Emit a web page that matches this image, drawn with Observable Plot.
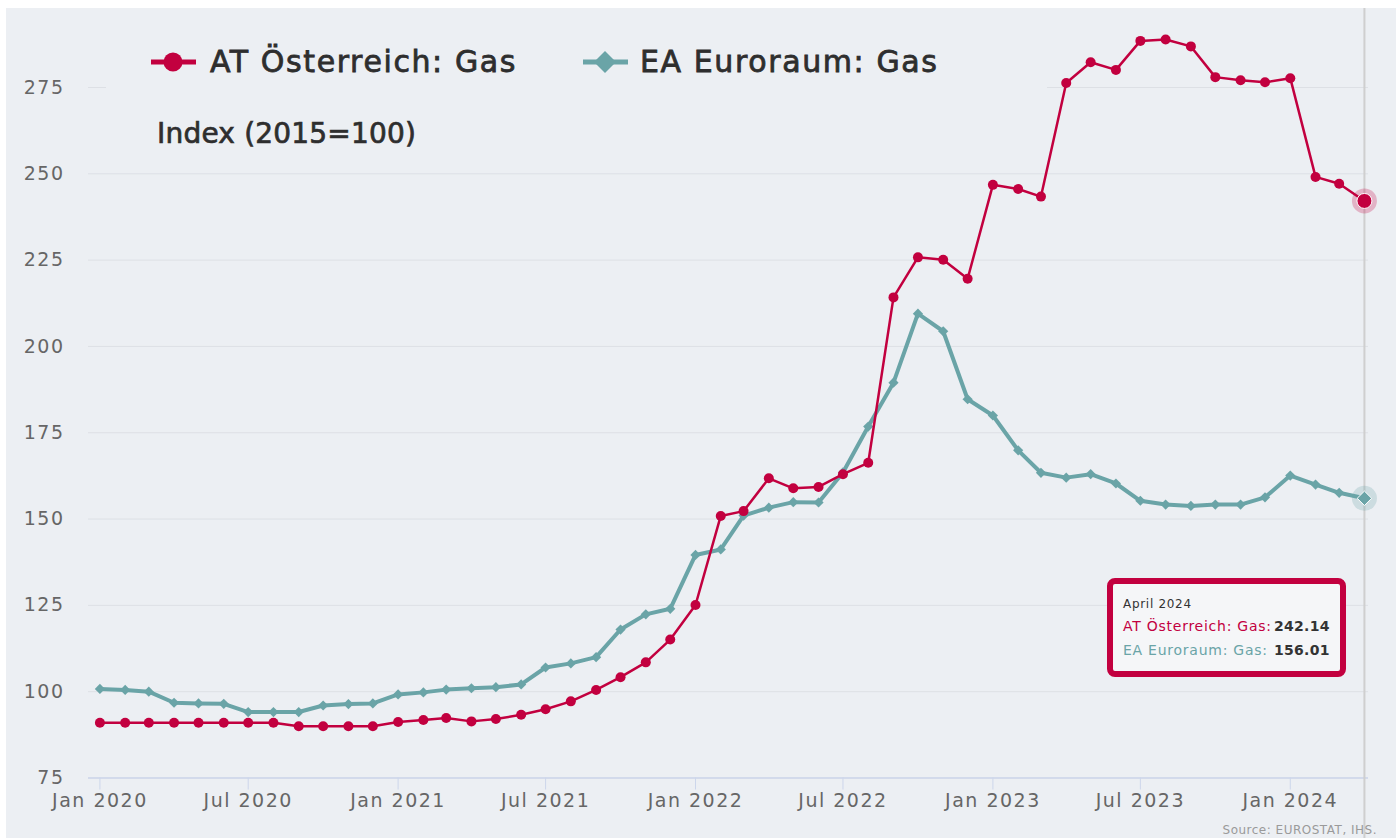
<!DOCTYPE html>
<html>
<head>
<meta charset="utf-8">
<script src="https://cdn.jsdelivr.net/npm/d3@7"></script>
<script src="https://cdn.jsdelivr.net/npm/@observablehq/plot@0.6"></script>
<style>
  html, body { margin: 0; padding: 0; background: #ffffff; }
  #wrap { position: relative; width: 1396px; height: 838px; overflow: hidden; background: #ffffff; font-family: "DejaVu Sans", sans-serif; }
  #panel { position: absolute; left: 6px; top: 8px; right: 0; bottom: 0; background: #eceff3; }
  #chart { position: absolute; left: 0; top: 0; }
  #chart text { letter-spacing: 1.5px; }
  #cover { position: absolute; left: 106px; top: 30px; width: 941px; height: 66px; background: #eceff3; }
  .abs { position: absolute; white-space: nowrap; line-height: 1; }
  .leg { font-size: 30px; letter-spacing: 1.6px; color: #2e2e2e; top: 46.6px; -webkit-text-stroke: 0.8px #2e2e2e; }
  #index { left: 157px; top: 119.8px; font-size: 28px; letter-spacing: 0.2px; color: #2e2e2e; -webkit-text-stroke: 0.7px #2e2e2e; }
  #tip { position: absolute; left: 1107px; top: 578px; width: 227px; height: 87px; border: 6px solid #c2003f; border-radius: 8px; background: #f5f6f8; }
  .tl { position: absolute; white-space: nowrap; line-height: 1; }
  #source { right: 19px; top: 824px; font-size: 12px; letter-spacing: 0.5px; color: #9a9a9a; }
</style>
</head>
<body>
<div id="wrap">
  <div id="panel"></div>
  <div id="chart"></div>
  <div id="cover"></div>
  <svg class="abs" style="left:148px;top:50px" width="52" height="24"><line x1="3" y1="12" x2="48" y2="12" stroke="#c2003f" stroke-width="5"/><circle cx="25" cy="12" r="9.5" fill="#c2003f"/></svg>
  <div class="abs leg" id="legAT" style="left:210px"></div>
  <svg class="abs" style="left:580px;top:50px" width="52" height="24"><line x1="3" y1="12" x2="48" y2="12" stroke="#6aa4a7" stroke-width="5"/><path d="M25 1 L36 12 L25 23 L14 12 Z" fill="#6aa4a7"/></svg>
  <div class="abs leg" id="legEA" style="left:640px"></div>
  <div class="abs" id="index"></div>
  <div id="tip">
    <div class="tl" id="tipDate" style="left:10px;top:14px;font-size:12px;letter-spacing:0.7px;color:#333;"></div>
    <div class="tl" id="tipAT" style="left:10px;top:35px;font-size:14px;letter-spacing:0.75px;color:#c2003f;"></div>
    <div class="tl" id="tipATv" style="left:161px;top:35px;font-size:14px;font-weight:bold;letter-spacing:0.3px;color:#333;"></div>
    <div class="tl" id="tipEA" style="left:10px;top:59px;font-size:14px;letter-spacing:0.75px;color:#6aa4a7;"></div>
    <div class="tl" id="tipEAv" style="left:161px;top:59px;font-size:14px;font-weight:bold;letter-spacing:0.3px;color:#333;"></div>
  </div>
  <div class="abs" id="source"></div>
</div>
<script>
// ---- data ----
const months = [
  "2020-01","2020-02","2020-03","2020-04","2020-05","2020-06","2020-07","2020-08","2020-09","2020-10","2020-11","2020-12",
  "2021-01","2021-02","2021-03","2021-04","2021-05","2021-06","2021-07","2021-08","2021-09","2021-10","2021-11","2021-12",
  "2022-01","2022-02","2022-03","2022-04","2022-05","2022-06","2022-07","2022-08","2022-09","2022-10","2022-11","2022-12",
  "2023-01","2023-02","2023-03","2023-04","2023-05","2023-06","2023-07","2023-08","2023-09","2023-10","2023-11","2023-12",
  "2024-01","2024-02","2024-03","2024-04"
];
const atValues = [
  91.0, 91.0, 91.0, 91.0, 91.0, 91.0, 91.0, 91.0, 90.0, 90.0, 90.0, 90.0,
  91.2, 91.8, 92.4, 91.4, 92.1, 93.3, 94.9, 97.2, 100.5, 104.2, 108.5, 115.1,
  125.1, 150.9, 152.3, 161.8, 158.9, 159.3, 163.0, 166.3, 214.2, 225.8, 225.1, 219.6,
  246.8, 245.6, 243.4, 276.3, 282.3, 280.1, 288.5, 288.9, 286.9, 278.0, 277.1, 276.5,
  277.7, 249.1, 247.1, 242.14
];
const eaValues = [
  100.8, 100.5, 100.0, 96.8, 96.6, 96.5, 94.1, 94.1, 94.1, 96.0, 96.4, 96.6,
  99.2, 99.8, 100.6, 101.0, 101.3, 102.1, 107.0, 108.2, 110.0, 118.0, 122.4, 124.0,
  139.6, 141.2, 151.0, 153.3, 154.9, 154.8, 163.5, 176.8, 189.5, 209.5, 204.4, 184.7,
  180.0, 169.9, 163.4, 162.0, 163.0, 160.3, 155.3, 154.2, 153.8, 154.2, 154.2, 156.3,
  162.6, 160.0, 157.6, 156.01
];
const seriesNames = ["AT Österreich: Gas", "EA Euroraum: Gas"];
const seriesColors = ["#c2003f", "#6aa4a7"];
const yTicks = [75, 100, 125, 150, 175, 200, 225, 250, 275];
const xTickMonths = ["2020-01","2020-07","2021-01","2021-07","2022-01","2022-07","2023-01","2023-07","2024-01"];
const unitLabel = "Index (2015=100)";
const tooltipDate = "April 2024";
const sourceText = "Source: EUROSTAT, IHS.";

// ---- build ----
const parse = d3.utcParse("%Y-%m");
const at = months.map((m, i) => ({date: parse(m), value: atValues[i]}));
const ea = months.map((m, i) => ({date: parse(m), value: eaValues[i]}));
const lastAT = [at[at.length - 1]];
const lastEA = [ea[ea.length - 1]];
const xTicks = xTickMonths.map(parse);

const chart = Plot.plot({
  width: 1396,
  height: 838,
  marginLeft: 88,
  marginRight: 28,
  marginTop: 10,
  marginBottom: 60.5,
  style: {background: "transparent", fontFamily: "DejaVu Sans, sans-serif", fontSize: "19px", color: "#666"},
  x: {type: "utc", domain: [new Date(Date.UTC(2019, 11, 18)), new Date(Date.UTC(2024, 3, 6))], label: null},
  y: {domain: [75, 297.3], label: null},
  marks: [
    Plot.gridY(yTicks, {stroke: "#dde0e5", strokeOpacity: 1, strokeWidth: 1}),
    Plot.ruleY([75], {stroke: "#ccd6eb", strokeWidth: 1.5}),
    Plot.ruleX(lastAT, {x: "date", stroke: "#cfcfcf", strokeWidth: 2, insetTop: -2, insetBottom: -61}),
    Plot.axisY(yTicks, {tickSize: 0, tickPadding: 24, fill: "#666", fontSize: 19, label: null}),
    Plot.axisX(xTicks, {tickSize: 12, stroke: "#ccd6eb", strokeOpacity: 1, tickPadding: 3, fill: "#666", fontSize: 19, tickFormat: d3.utcFormat("%b %Y"), label: null}),
    Plot.line(ea, {x: "date", y: "value", stroke: seriesColors[1], strokeWidth: 4, curve: "linear"}),
    Plot.dot(ea, {x: "date", y: "value", symbol: "diamond2", r: 4.6, fill: seriesColors[1]}),
    Plot.line(at, {x: "date", y: "value", stroke: seriesColors[0], strokeWidth: 2.5, curve: "linear"}),
    Plot.dot(at, {x: "date", y: "value", r: 5, fill: seriesColors[0]}),
    Plot.dot(lastAT, {x: "date", y: "value", r: 12.5, fill: seriesColors[0], fillOpacity: 0.25}),
    Plot.dot(lastAT, {x: "date", y: "value", r: 7.5, fill: seriesColors[0], stroke: "#ffffff", strokeWidth: 1}),
    Plot.dot(lastEA, {x: "date", y: "value", r: 12.5, fill: seriesColors[1], fillOpacity: 0.25}),
    Plot.dot(lastEA, {x: "date", y: "value", symbol: "diamond2", r: 6.5, fill: seriesColors[1], stroke: "#ffffff", strokeWidth: 1})
  ]
});
document.getElementById("chart").appendChild(chart);

document.getElementById("legAT").textContent = seriesNames[0];
document.getElementById("legEA").textContent = seriesNames[1];
document.getElementById("index").textContent = unitLabel;
document.getElementById("tipDate").textContent = tooltipDate;
document.getElementById("tipAT").textContent = seriesNames[0] + ":";
document.getElementById("tipATv").textContent = d3.format(".2f")(atValues[atValues.length - 1]);
document.getElementById("tipEA").textContent = seriesNames[1] + ":";
document.getElementById("tipEAv").textContent = d3.format(".2f")(eaValues[eaValues.length - 1]);
document.getElementById("source").textContent = sourceText;
</script>
</body>
</html>
